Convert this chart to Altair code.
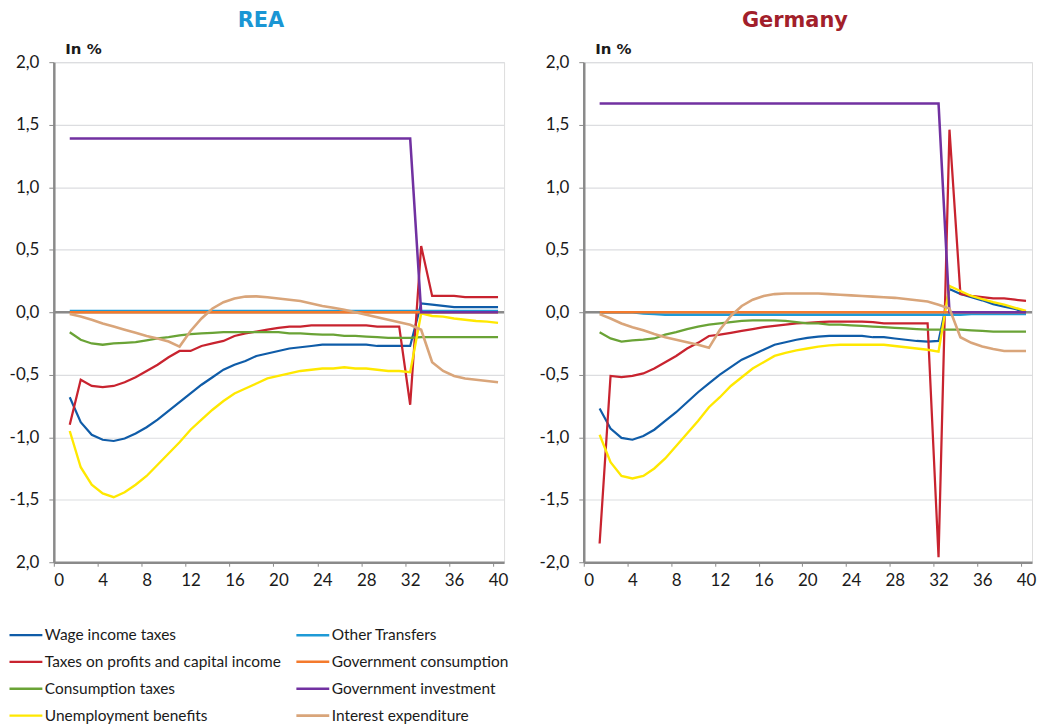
import altair as alt
import pandas as pd

quarters = list(range(1, 41))

series_names = [
    "Wage income taxes",
    "Taxes on profits and capital income",
    "Consumption taxes",
    "Unemployment benefits",
    "Other Transfers",
    "Government consumption",
    "Government investment",
    "Interest expenditure",
]
colors = {
    "Wage income taxes": "#0f5ca8",
    "Taxes on profits and capital income": "#c8232f",
    "Consumption taxes": "#6aa336",
    "Unemployment benefits": "#ffe800",
    "Other Transfers": "#1e9ad6",
    "Government consumption": "#f47a2c",
    "Government investment": "#7131a1",
    "Interest expenditure": "#d9a57a",
}
widths = {
    "Wage income taxes": 2.2,
    "Taxes on profits and capital income": 2.6,
    "Consumption taxes": 2.0,
    "Unemployment benefits": 2.8,
    "Other Transfers": 2.4,
    "Government consumption": 2.4,
    "Government investment": 2.0,
    "Interest expenditure": 2.6,
}

# ---------------- REA ----------------
rea_wage = [-0.68, -0.88, -0.98, -1.02, -1.03, -1.01, -0.97, -0.92, -0.86, -0.79,
            -0.72, -0.65, -0.58, -0.52, -0.46, -0.42, -0.39, -0.35, -0.33, -0.31,
            -0.29, -0.28, -0.27, -0.26, -0.26, -0.26, -0.26, -0.26, -0.27, -0.27,
            -0.27, -0.27, 0.07, 0.06, 0.05, 0.04, 0.04, 0.04, 0.04, 0.04]
rea_profits = [-0.90, -0.54, -0.59, -0.60, -0.59, -0.56, -0.52, -0.47, -0.42, -0.36,
               -0.31, -0.31, -0.27, -0.25, -0.23, -0.19, -0.17, -0.155, -0.14, -0.125,
               -0.115, -0.115, -0.105, -0.105, -0.105, -0.105, -0.105, -0.105, -0.115, -0.115,
               -0.115, -0.74, 0.53, 0.13, 0.13, 0.13, 0.12, 0.12, 0.12, 0.12]
rea_consumption = [-0.16, -0.22, -0.25, -0.26, -0.25, -0.245, -0.24, -0.225, -0.21, -0.20,
                   -0.185, -0.175, -0.17, -0.165, -0.16, -0.16, -0.16, -0.16, -0.16, -0.16,
                   -0.17, -0.17, -0.175, -0.18, -0.18, -0.19, -0.19, -0.195, -0.20, -0.205,
                   -0.205, -0.205, -0.20, -0.20, -0.20, -0.20, -0.20, -0.20, -0.20, -0.20]
rea_unemployment = [-0.95, -1.24, -1.38, -1.45, -1.48, -1.44, -1.38, -1.31, -1.22, -1.13,
                    -1.04, -0.94, -0.86, -0.78, -0.71, -0.65, -0.61, -0.57, -0.53, -0.51,
                    -0.49, -0.47, -0.46, -0.45, -0.45, -0.44, -0.45, -0.45, -0.46, -0.47,
                    -0.47, -0.48, -0.01, -0.03, -0.035, -0.05, -0.06, -0.07, -0.075, -0.085]
rea_other = [0.01] * 40
rea_govcons = [0.0] * 40
rea_govinv = [1.39] * 32 + [0.0] * 8
rea_interest = [-0.015, -0.035, -0.06, -0.09, -0.115, -0.14, -0.165, -0.19, -0.21, -0.235,
                -0.275, -0.15, -0.05, 0.03, 0.08, 0.11, 0.125, 0.127, 0.12, 0.11,
                0.10, 0.09, 0.07, 0.05, 0.035, 0.02, 0.0, -0.02, -0.04, -0.06,
                -0.08, -0.10, -0.14, -0.40, -0.47, -0.51, -0.53, -0.54, -0.55, -0.56]

# ---------------- Germany ----------------
de_wage = [-0.77, -0.93, -1.005, -1.02, -0.99, -0.94, -0.87, -0.80, -0.72, -0.64,
           -0.57, -0.50, -0.44, -0.38, -0.34, -0.30, -0.26, -0.24, -0.22, -0.205,
           -0.195, -0.19, -0.19, -0.19, -0.19, -0.20, -0.20, -0.21, -0.22, -0.23,
           -0.235, -0.23, 0.185, 0.145, 0.12, 0.095, 0.065, 0.045, 0.026, 0.0]
de_profits = [-1.85, -0.51, -0.52, -0.51, -0.49, -0.45, -0.40, -0.35, -0.29, -0.245,
              -0.19, -0.18, -0.165, -0.15, -0.135, -0.12, -0.11, -0.10, -0.09, -0.085,
              -0.08, -0.075, -0.075, -0.075, -0.075, -0.08, -0.09, -0.09, -0.09, -0.09,
              -0.09, -1.96, 1.46, 0.145, 0.13, 0.12, 0.11, 0.11, 0.10, 0.09]
de_consumption = [-0.16, -0.21, -0.235, -0.225, -0.22, -0.21, -0.18, -0.16, -0.135, -0.115,
                  -0.10, -0.09, -0.08, -0.07, -0.065, -0.065, -0.065, -0.07, -0.08, -0.09,
                  -0.09, -0.10, -0.10, -0.105, -0.11, -0.115, -0.12, -0.125, -0.13, -0.135,
                  -0.14, -0.14, -0.14, -0.14, -0.145, -0.15, -0.155, -0.155, -0.155, -0.155]
de_unemployment = [-0.98, -1.20, -1.31, -1.33, -1.31, -1.25, -1.17, -1.07, -0.97, -0.87,
                   -0.76, -0.68, -0.59, -0.52, -0.45, -0.40, -0.35, -0.325, -0.305, -0.29,
                   -0.275, -0.265, -0.26, -0.26, -0.26, -0.26, -0.26, -0.27, -0.28, -0.29,
                   -0.30, -0.315, 0.21, 0.17, 0.13, 0.105, 0.08, 0.06, 0.035, 0.01]
de_other = [0.0, 0.0, 0.0, 0.0, -0.01, -0.015] + [-0.02] * 28 + [-0.015] * 6
de_govcons = [0.0] * 40
de_govinv = [1.67] * 32 + [0.0] * 8
de_interest = [-0.015, -0.05, -0.09, -0.12, -0.145, -0.175, -0.20, -0.22, -0.24, -0.26,
               -0.285, -0.14, -0.03, 0.05, 0.10, 0.13, 0.145, 0.15, 0.15, 0.15,
               0.15, 0.145, 0.14, 0.135, 0.13, 0.125, 0.12, 0.115, 0.105, 0.095,
               0.085, 0.06, 0.03, -0.20, -0.245, -0.275, -0.295, -0.31, -0.31, -0.31]

y_ticks = [-2.0, -1.5, -1.0, -0.5, 0.0, 0.5, 1.0, 1.5, 2.0]
x_ticks = [0, 4, 8, 12, 16, 20, 24, 28, 32, 36, 40]

rea_series = [rea_wage, rea_profits, rea_consumption, rea_unemployment,
              rea_other, rea_govcons, rea_govinv, rea_interest]
de_series = [de_wage, de_profits, de_consumption, de_unemployment,
             de_other, de_govcons, de_govinv, de_interest]


def long_df(series_list):
    rows = []
    for k, (name, vals) in enumerate(zip(series_names, series_list)):
        for q, v in zip(quarters, vals):
            rows.append({"series": name, "order": k, "quarter": q, "value": v})
    return pd.DataFrame(rows)


FONT = "Lato"
BOLD_FONT = "DejaVu Sans"


def panel(series_list, title, title_color, bottom_label, width, title_dx):
    df = long_df(series_list)
    label_expr = (
        "datum.value == -2 ? '" + bottom_label + "' : "
        "(datum.value < 0 ? '-' : '') + replace(format(abs(datum.value), '.1f'), '.', ',')"
    )
    zero = alt.Chart(pd.DataFrame({"z": [0.0]})).mark_rule(
        color="#8a8a8a", strokeWidth=2.5
    ).encode(y=alt.Y("z:Q", scale=alt.Scale(domain=[-2, 2])))
    lines = alt.Chart(df).mark_line(strokeJoin="miter").encode(
        x=alt.X(
            "quarter:Q",
            scale=alt.Scale(domain=[-0.45, 40.55], nice=False, zero=False),
            axis=alt.Axis(
                values=x_ticks, title=None, grid=False, domainColor="#8a8a8a",
                domainWidth=2.5, tickColor="#8a8a8a", tickSize=4, tickOffset=-5,
                labelOffset=5,
                labelFontSize=17, labelColor="#1a1a1a", labelPadding=6, labelFont=FONT,
            ),
        ),
        y=alt.Y(
            "value:Q",
            scale=alt.Scale(domain=[-2, 2], nice=False),
            axis=alt.Axis(
                values=y_ticks, title="In %", titleAngle=0, titleAlign="left",
                titleBaseline="alphabetic", titleX=11, titleY=-9, titleFontSize=15,
                titleFontWeight="bold", titleColor="#1a1a1a", titleFont=BOLD_FONT,
                labelExpr=label_expr, labelFontSize=17, labelColor="#1a1a1a",
                labelFont=FONT, labelPadding=10, tickSize=5, tickColor="#8a8a8a",
                domainColor="#8a8a8a", domainWidth=2.5, gridColor="#dcdde0",
                gridWidth=1.2,
            ),
        ),
        color=alt.Color(
            "series:N",
            scale=alt.Scale(domain=series_names, range=[colors[s] for s in series_names]),
            legend=alt.Legend(
                title=None, orient="none", legendX=-46, legendY=557, columns=2,
                columnPadding=9, rowPadding=-6, symbolType="stroke",
                symbolSize=1089, symbolStrokeWidth=2.5, labelFontSize=15.5,
                labelFont=FONT, labelColor="#1a1a1a", labelOffset=1,
                labelLimit=400, direction="vertical",
            ),
        ),
        strokeWidth=alt.StrokeWidth(
            "series:N",
            scale=alt.Scale(domain=series_names, range=[widths[s] for s in series_names]),
            legend=None,
        ),
        order=alt.Order("order:Q"),
        detail="series:N",
    )
    return alt.layer(zero, lines).properties(
        width=width, height=502,
        title=alt.Title(title, color=title_color, fontSize=21, fontWeight="bold",
                        anchor="middle", frame="group", font=BOLD_FONT, offset=10,
                        dx=title_dx),
    )


left = panel(rea_series, "REA", "#1a96d4", "2,0", 452, -18)
right = panel(de_series, "Germany", "#a21f2b", "-2,0", 450, -13)

chart = alt.hconcat(left, right, spacing=29).configure_view(
    fill="#f0f1f3", stroke=None
).configure(font=FONT, padding={"left": 0, "top": 0, "right": 0, "bottom": 0})

chart.save("out.html", embed_options={"renderer": "svg", "actions": False})
